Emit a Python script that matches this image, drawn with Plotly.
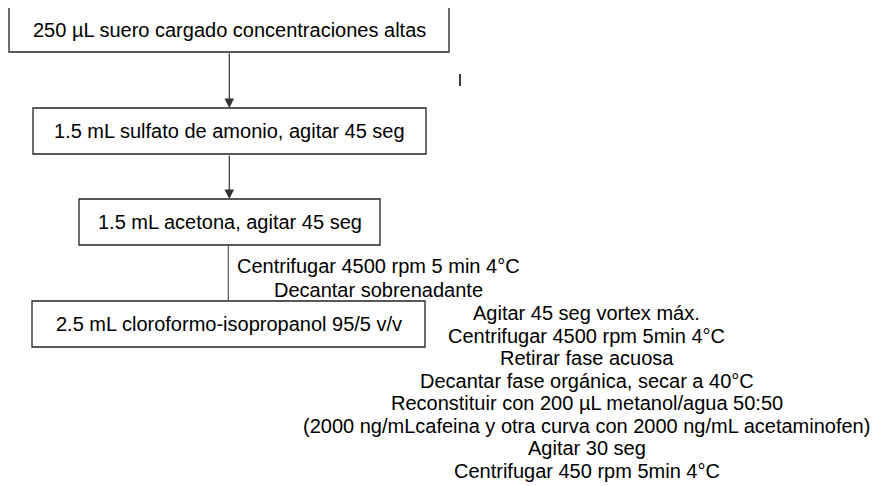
import plotly.graph_objects as go

# ---- content ----
box_labels = [
    "250 µL suero cargado concentraciones altas",
    "1.5 mL sulfato de amonio, agitar 45 seg",
    "1.5 mL acetona, agitar 45 seg",
    "2.5 mL cloroformo-isopropanol 95/5 v/v",
]
mid_notes = [
    "Centrifugar 4500 rpm 5 min 4°C",
    "Decantar sobrenadante",
]
final_notes = [
    "Agitar 45 seg vortex máx.",
    "Centrifugar 4500 rpm 5min 4°C",
    "Retirar fase acuosa",
    "Decantar fase orgánica, secar a 40°C",
    "Reconstituir con 200 µL metanol/agua 50:50",
    "(2000 ng/mLcafeina y otra curva con 2000 ng/mL acetaminofen)",
    "Agitar 30 seg",
    "Centrifugar 450 rpm 5min 4°C",
]

# ---- layout geometry (page pixels) ----
W, H = 879, 486
PAGE_MARGIN = 8  # default body margin of the html page
boxes = [  # x0, x1, y0, y1
    (9, 449, 7, 52),
    (33, 426, 108, 154),
    (79, 380, 199, 245),
    (32, 425, 301, 347),
]
FONT = "Liberation Sans, Arial, sans-serif"
FS = 20
LINE_COLOR = "#222222"

fig = go.Figure()
shapes = []
annotations = []

for (x0, x1, y0, y1), lab in zip(boxes, box_labels):
    shapes.append(dict(type="rect", xref="x", yref="y", x0=x0, x1=x1, y0=y0, y1=y1,
                       line=dict(color=LINE_COLOR, width=1.3), fillcolor="white", layer="below"))
    annotations.append(dict(x=(x0 + x1) / 2, y=(y0 + y1) / 2, xref="x", yref="y",
                            text=lab, showarrow=False, xanchor="center", yanchor="middle",
                            font=dict(family=FONT, size=FS, color="black")))

# arrows between first three boxes
cx = 229.3
for i in range(2):
    y_from = boxes[i][3]
    y_to = boxes[i + 1][2]
    annotations.append(dict(x=cx, y=y_to, ax=cx, ay=y_from, xref="x", yref="y",
                            axref="x", ayref="y", text="", showarrow=True,
                            arrowhead=2, arrowsize=1.6, arrowwidth=1.2,
                            arrowcolor="#333333", standoff=0, startstandoff=0))

# plain connector between box 3 and box 4
shapes.append(dict(type="line", xref="x", yref="y", x0=cx - 1, x1=cx - 1,
                   y0=boxes[2][3], y1=boxes[3][2], line=dict(color="#555555", width=1.2)))

# small stray mark
shapes.append(dict(type="line", xref="x", yref="y", x0=460, x1=460, y0=74, y1=86,
                   line=dict(color="black", width=1.5)))

# middle notes
for i, t in enumerate(mid_notes):
    annotations.append(dict(x=378, y=266 + i * 23.5, xref="x", yref="y", text=t,
                            showarrow=False, xanchor="center", yanchor="middle",
                            font=dict(family=FONT, size=FS, color="black")))

# final notes
for i, t in enumerate(final_notes):
    annotations.append(dict(x=586.5, y=313 + i * 22.5, xref="x", yref="y", text=t,
                            showarrow=False, xanchor="center", yanchor="middle",
                            font=dict(family=FONT, size=FS, color="black")))

fig.update_layout(
    width=W - PAGE_MARGIN, height=H - PAGE_MARGIN,
    margin=dict(l=0, r=0, t=0, b=0),
    paper_bgcolor="white", plot_bgcolor="white",
    xaxis=dict(range=[PAGE_MARGIN, W], visible=False, fixedrange=True),
    yaxis=dict(range=[H, PAGE_MARGIN], visible=False, fixedrange=True),
    shapes=shapes, annotations=annotations, showlegend=False,
)

fig.write_html("out.html", config={"displayModeBar": False})
